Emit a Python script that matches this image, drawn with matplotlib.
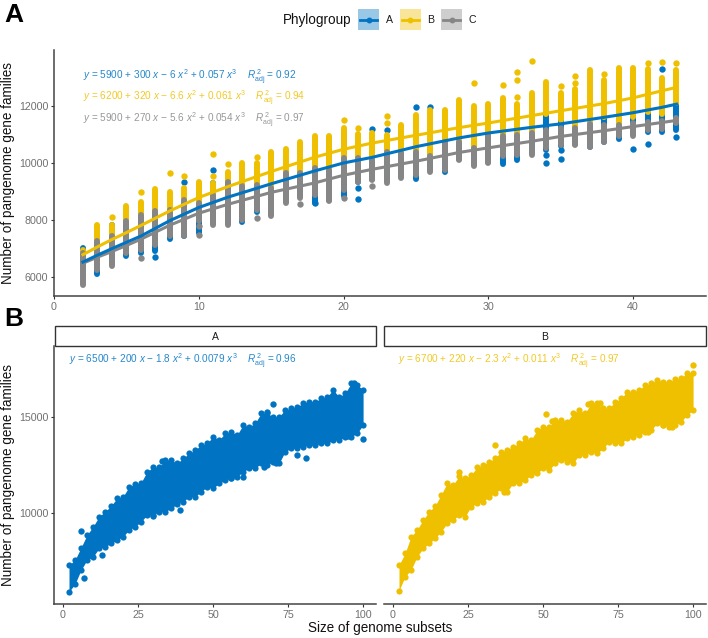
import numpy as np
import matplotlib
matplotlib.use('Agg')
import matplotlib.pyplot as plt
from matplotlib.patches import Rectangle

plt.rcParams['font.family'] = ['Liberation Sans', 'DejaVu Sans']
plt.rcParams['mathtext.fontset'] = 'custom'
plt.rcParams['mathtext.rm'] = 'Liberation Sans'
plt.rcParams['mathtext.it'] = 'Liberation Sans:italic'

BLUE = '#0073C2'
YELLOW = '#EFC000'
GRAY = '#868686'

# panel A, one column per subset size
sizes = list(range(2, 44))
a_lo = [6400, 6127, 6500, 6730, 6860, 6900, 7350, 7450, 7550, 7900, 7900, 7920, 8290, 8250, 8700, 8900, 8600, 8700, 8850, 9350, 9450,
        9400, 9550, 9450, 9750, 9670, 10150, 9950, 10040, 9950, 10090, 10350, 10450, 10600, 10650, 10565, 10750, 10845, 11000, 11100, 11100, 11160]
a_hi = [7035, 7200, 7840, 7900, 8100, 8300, 8300, 8700, 8600, 9300, 9300, 9200, 9300, 9300, 9700, 9700, 9900, 10850, 11050, 10200, 10500,
        10600, 10400, 10500, 10500, 10900, 11000, 10900, 11100, 11100, 11100, 11150, 11700, 11550, 11300, 11400, 11650, 11500, 11700, 12000, 11900, 12100]
b_lo = [6700, 7200, 7400, 7900, 8100, 8250, 8300, 8650, 8550, 8850, 9300, 9150, 9200, 9100, 9600, 9600, 9800, 9700, 10150, 10150, 10100,
        10350, 10300, 10350, 10200, 10700, 10700, 10500, 10950, 10900, 10950, 11000, 11700, 11500, 11200, 11350, 11600, 11350, 11600, 11800, 11700, 12100]
b_hi = [6940, 7840, 7840, 8480, 8650, 9100, 9000, 9130, 9320, 9300, 9670, 10000, 10000, 10400, 10500, 10720, 10960, 10960, 11220, 11010, 11045,
        10985, 11335, 11685, 11860, 11840, 12190, 12000, 12070, 12270, 12070, 12445, 12830, 12465, 12590, 13260, 12910, 13320, 13320, 13300, 12970, 13260]
c_lo = [5742, 6267, 6380, 6860, 6966, 7140, 7430, 7430, 7960, 7840, 7840, 8015, 8360, 8130, 8600, 8780, 8890, 8680, 9060, 9350, 9410,
        9300, 9480, 9590, 9700, 9760, 10110, 9880, 9995, 10230, 10285, 10285, 10530, 10635, 10635, 10565, 10750, 10930, 10930, 11160, 11185, 11395]
c_hi = [6861, 7256, 7455, 7960, 8190, 8305, 8360, 8710, 8600, 8890, 9350, 9200, 9240, 9130, 9650, 9650, 9830, 9760, 10180, 10180, 10110,
        10400, 10350, 10400, 10230, 10750, 10750, 10530, 10985, 10930, 10985, 11045, 11160, 11230, 11230, 11370, 11335, 11335, 11415, 11450, 11485, 11580]

a_iso_x = [9, 11, 21, 21, 22, 23, 25, 26, 34, 34, 35, 35, 40, 41, 42, 43, 7, 18]
a_iso_y = [9340, 9740, 9130, 8750, 11196, 11140, 11960, 11960, 10285, 9995, 10460, 10145, 10490, 10670, 13295, 10910, 6690, 8600]
b_iso_x = [4, 6, 8, 9, 11, 11, 12, 14, 20, 21, 23, 23, 29, 31, 32, 32, 32, 33, 35, 36, 36, 38, 41, 42, 43]
b_iso_y = [8120, 8990, 9650, 9530, 10320, 9560, 9970, 10210, 11510, 11230, 11630, 11395, 12815, 12735, 13200, 12920, 12315, 13565,
           12710, 13060, 12790, 13120, 13515, 13530, 13490]
c_iso_x = [6, 10, 10, 14, 17, 20, 22]
c_iso_y = [6680, 7490, 7780, 8080, 8570, 8780, 9180]

# fitted curves
fit_x = [2, 3, 4, 5, 6, 8, 10, 12, 15, 18, 20, 22, 25, 28, 30, 33, 35, 38, 40, 42, 43]
fit_a = [6530, 6770, 7000, 7220, 7440, 7980, 8440, 8800, 9270, 9720, 10000, 10200, 10570, 10880, 11050, 11250, 11370, 11600, 11760, 11950, 12060]
fit_b = [6790, 7060, 7320, 7560, 7810, 8320, 8790, 9170, 9700, 10200, 10480, 10700, 10970, 11240, 11400, 11660, 11830, 12080, 12280, 12530, 12650]
fit_c = [6490, 6700, 6900, 7110, 7330, 7820, 8240, 8550, 8970, 9300, 9570, 9780, 10060, 10370, 10530, 10760, 10930, 11130, 11275, 11420, 11490]

# panel B, band edges
band_x = list(range(2, 101, 2))
ba_top = [7274, 7535, 8180, 8837, 9270, 9790, 10050, 10350, 10750, 10830, 11350, 11490, 11560, 12135, 12360, 12360, 12740, 12740, 12570, 12830,
          13090, 13260, 13520, 13610, 13960, 13785, 14130, 14220, 14045, 14565, 14480, 14650, 15170, 15170, 15000, 15000, 15350, 15430, 15520, 15690,
          15780, 15780, 15950, 16040, 16390, 16040, 16210, 16730, 16650, 16400]
ba_low = [5886, 6285, 7014, 7535, 7700, 8140, 8230, 8400, 8580, 8750, 9100, 9270, 9530, 9880, 9880, 10050, 10050, 10225, 10450, 10570,
          10830, 10830, 11090, 11350, 11270, 11530, 11700, 11790, 11870, 12135, 12310, 12310, 12570, 12480, 12660, 12570, 13180, 13350, 13350, 13440,
          13520, 13520, 13610, 13610, 13780, 13780, 13960, 13960, 14130, 14570]
bb_top = [7274, 7880, 8750, 9100, 9620, 10050, 10350, 10920, 11530, 11440, 11900, 11790, 11960, 12360, 12480, 12650, 12830, 13180, 13260, 13440,
          13610, 13870, 13785, 14300, 14480, 14480, 14825, 14825, 14740, 15170, 15350, 15170, 15690, 15690, 15430, 15430, 15780, 15950, 16300, 16300,
          16390, 16650, 16740, 16910, 16820, 16820, 16950, 17000, 17300, 17300]
bb_low = [5940, 6670, 7014, 7700, 8140, 8400, 8660, 9010, 9440, 9620, 9880, 9790, 10310, 10490, 10570, 10830, 11000, 11270, 11090, 11530,
          11530, 11700, 11960, 12050, 12310, 12220, 12570, 12740, 12660, 12570, 13000, 13000, 13180, 13090, 13350, 13700, 13610, 13610, 13870, 13960,
          14045, 14220, 14300, 14650, 14565, 14480, 14565, 14740, 15090, 15350]
ba_iso_x = [6, 7, 13, 39, 30, 70, 68, 81, 78, 60, 56, 67, 71, 33, 100, 95, 97]
ba_iso_y = [9060, 6615, 7795, 10140, 9830, 15640, 15225, 12865, 13000, 11840, 11800, 12400, 12600, 12670, 13850, 14000, 16770]
bb_iso_x = [34, 22, 51, 65, 69, 85, 90, 93, 37, 100, 53]
bb_iso_y = [13520, 12130, 15120, 15660, 15700, 14180, 14565, 14460, 11090, 17690, 14800]

W, H = 708, 638


def box(left, top, right, bottom):
    return [left / W, 1 - bottom / H, (right - left) / W, (bottom - top) / H]


def style(ax):
    ax.spines['top'].set_visible(False)
    ax.spines['right'].set_visible(False)
    ax.spines['left'].set_linewidth(1.1)
    ax.spines['bottom'].set_linewidth(1.1)
    ax.spines['left'].set_color('#444444')
    ax.spines['bottom'].set_color('#444444')
    ax.tick_params(length=2.2, width=0.8, color='#333333', labelcolor='#707070', labelsize=7.7, pad=2)


def stack(ax, lo, hi, iso_x, iso_y, color):
    ax.vlines(sizes, lo, hi, color=color, lw=4.3, capstyle='round', zorder=2)
    ax.scatter(iso_x, iso_y, s=21, color=color, linewidths=0, zorder=2)


def band(ax, top, low, iso_x, iso_y, color):
    ax.fill_between(band_x, low, top, color=color, lw=0, zorder=2)
    ax.scatter(band_x + band_x, top + low, s=20, color=color, linewidths=0, zorder=2)
    ax.scatter(iso_x, iso_y, s=21, color=color, linewidths=0, zorder=2)


fig = plt.figure(figsize=(W / 100, H / 100), dpi=100)

ax1 = fig.add_axes(box(54, 50, 706, 296))
stack(ax1, a_lo, a_hi, a_iso_x, a_iso_y, BLUE)
stack(ax1, b_lo, b_hi, b_iso_x, b_iso_y, YELLOW)
stack(ax1, c_lo, c_hi, c_iso_x, c_iso_y, GRAY)
ax1.plot(fit_x, fit_c, color=GRAY, lw=2.2, zorder=3)
ax1.plot(fit_x, fit_b, color=YELLOW, lw=2.2, zorder=3)
ax1.plot(fit_x, fit_a, color=BLUE, lw=2.2, zorder=3)
ax1.set_xlim(0, 45.04)
ax1.set_ylim(5340, 13958)
ax1.set_xticks([0, 10, 20, 30, 40])
ax1.set_yticks([6000, 8000, 10000, 12000])
ax1.set_ylabel('Number of pangenome gene families', fontsize=9.75, color='#111111', labelpad=3)
style(ax1)

ax2 = fig.add_axes(box(54, 346, 376, 604))
band(ax2, ba_top, ba_low, ba_iso_x, ba_iso_y, BLUE)
ax3 = fig.add_axes(box(384, 346, 706, 604))
band(ax3, bb_top, bb_low, bb_iso_x, bb_iso_y, YELLOW)
for ax in (ax2, ax3):
    ax.set_xlim(-3, 104.3)
    ax.set_ylim(5245, 18680)
    ax.set_xticks([0, 25, 50, 75, 100])
    ax.set_yticks([10000, 15000])
    style(ax)
ax3.spines['left'].set_visible(False)
ax3.tick_params(left=False, labelleft=False)
ax2.set_ylabel('Number of pangenome gene families', fontsize=9.75, color='#111111', labelpad=3)

# overlay in pixels for strips, legend, equations and letters
top = fig.add_axes([0, 0, 1, 1], zorder=5)
top.set_xlim(0, W)
top.set_ylim(H, 0)
top.axis('off')

for left, right, name in [(55, 376, 'A'), (384, 706, 'B')]:
    top.add_patch(Rectangle((left, 326), right - left, 20, fc='white', ec='#333333', lw=1.0))
    top.text((left + right) / 2, 336.5, name, fontsize=7.5, color='#1a1a1a', ha='center', va='center')

top.text(283, 20, 'Phylogroup', fontsize=9.75, color='#111111', va='center')
for left, color, name in [(358, BLUE, 'A'), (399.5, YELLOW, 'B'), (441, GRAY, 'C')]:
    top.add_patch(Rectangle((left, 9), 21, 21, fc=color, alpha=0.4, lw=0))
    top.plot([left + 2, left + 19], [19.5, 19.5], color=color, lw=2.0)
    top.scatter([left + 10.5], [19.5], s=18, color=color, linewidths=0)
    top.text(left + 31, 20, name, fontsize=7.6, color='#1a1a1a', ha='center', va='center')

R2 = r'$R^{\,2}_{\mathrm{adj}}$'
eqs = [
    (83, 77, BLUE, r'$y$ = 5900 + 300 $x$ $-$ 6 $x^{2}$ + 0.057 $x^{3}$    ' + R2 + ' = 0.92'),
    (83, 98.5, YELLOW, r'$y$ = 6200 + 320 $x$ $-$ 6.6 $x^{2}$ + 0.061 $x^{3}$    ' + R2 + ' = 0.94'),
    (83, 120, GRAY, r'$y$ = 5900 + 270 $x$ $-$ 5.6 $x^{2}$ + 0.054 $x^{3}$    ' + R2 + ' = 0.97'),
    (69, 361, BLUE, r'$y$ = 6500 + 200 $x$ $-$ 1.8 $x^{2}$ + 0.0079 $x^{3}$    ' + R2 + ' = 0.96'),
    (398, 361, YELLOW, r'$y$ = 6700 + 220 $x$ $-$ 2.3 $x^{2}$ + 0.011 $x^{3}$    ' + R2 + ' = 0.97'),
]
for ex, ey, color, label in eqs:
    top.text(ex, ey, label, fontsize=7.2, color=color, alpha=0.85, va='center')

top.text(4, 22, 'A', fontsize=19, fontweight='bold', color='black', va='baseline')
top.text(4, 326, 'B', fontsize=19, fontweight='bold', color='black', va='baseline')
top.text(380, 628, 'Size of genome subsets', fontsize=9.75, color='#111111', ha='center', va='center')

fig.savefig('out.png', dpi=100)
